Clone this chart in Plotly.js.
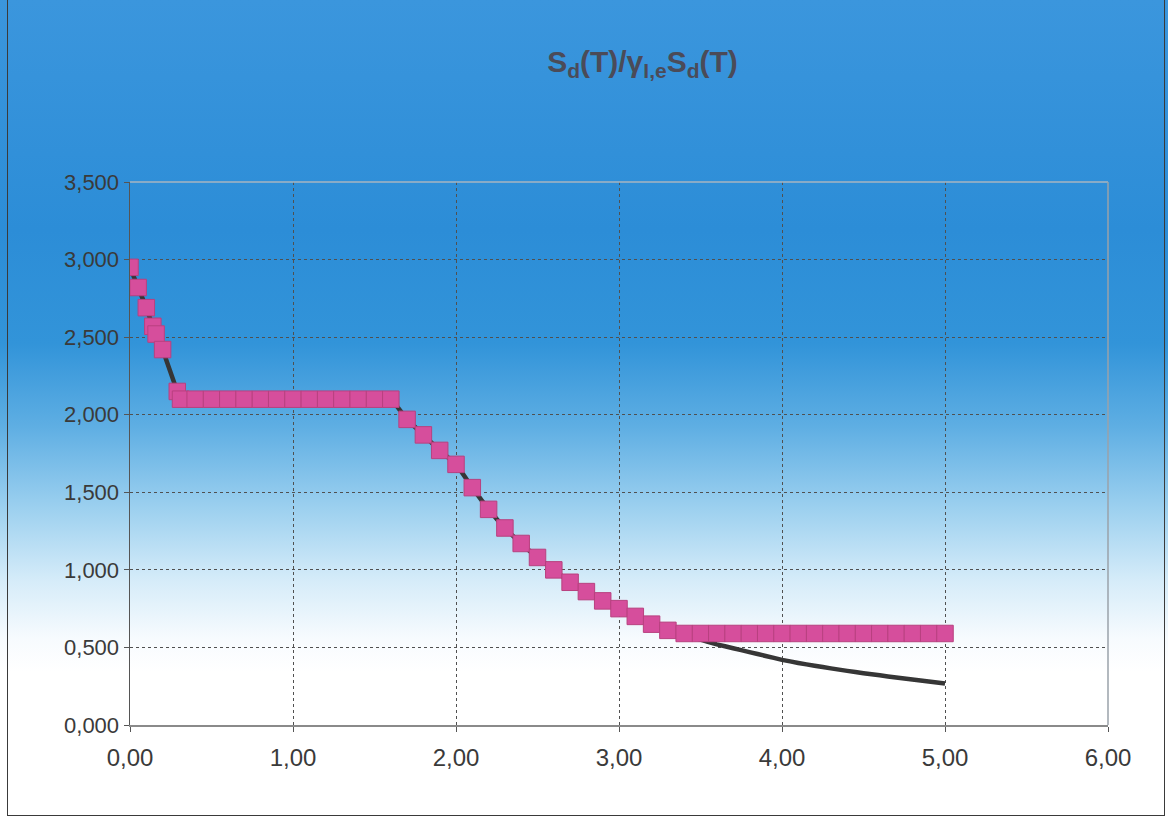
<!DOCTYPE html>
<html>
<head>
<meta charset="utf-8">
<script src="https://cdn.plot.ly/plotly-3.0.1.min.js"></script>
<style>
  html, body { margin: 0; padding: 0; width: 1168px; height: 819px; overflow: hidden; background: #ffffff; }
  #wrap { position: relative; width: 1168px; height: 819px;
    background: linear-gradient(to bottom, #3b96dd 0%, #2c8dd7 28%, #3294d9 42%, #5eaee3 52%, #9cd0ef 62%, #d6ecf9 71%, #f7fbfe 78%, #ffffff 82%, #ffffff 100%); }
  #chart { position: absolute; left: 0; top: 0; width: 1168px; height: 819px; }
  #frame { position: absolute; left: 7px; top: -2px; width: 1158px; height: 818px; border: 1px solid #3a3a3a; box-sizing: border-box; pointer-events: none; }
</style>
</head>
<body>
<div id="wrap">
  <div id="chart"></div>
  <div id="frame"></div>
</div>
<script>
// Period T (s) of the plotted points
const periods = [0, 0.05, 0.10, 0.14, 0.16, 0.20, 0.29, 0.31,
  0.40, 0.50, 0.60, 0.70, 0.80, 0.90, 1.00, 1.10, 1.20, 1.30, 1.40, 1.50, 1.60,
  1.70, 1.80, 1.90, 2.00, 2.10, 2.20, 2.30, 2.40, 2.50, 2.60, 2.70, 2.80, 2.90, 3.00,
  3.10, 3.20, 3.30, 3.40, 3.50, 3.60, 3.70, 3.80, 3.90, 4.00, 4.10, 4.20, 4.30, 4.40,
  4.50, 4.60, 4.70, 4.80, 4.90, 5.00];

// Spectrum without lower bound (black line)
const spectrumLine = [2.95, 2.82, 2.69, 2.57, 2.52, 2.42, 2.15, 2.10,
  2.10, 2.10, 2.10, 2.10, 2.10, 2.10, 2.10, 2.10, 2.10, 2.10, 2.10, 2.10, 2.10,
  1.97, 1.87, 1.77, 1.68, 1.53, 1.39, 1.27, 1.17, 1.08, 1.00, 0.92, 0.86, 0.80, 0.75,
  0.70, 0.65, 0.61, 0.58, 0.55, 0.52, 0.495, 0.47, 0.445, 0.42, 0.40, 0.382, 0.365, 0.349,
  0.334, 0.320, 0.306, 0.293, 0.280, 0.268];

// Spectrum with lower bound (pink squares)
const spectrumBounded = [2.95, 2.82, 2.69, 2.57, 2.52, 2.42, 2.15, 2.10,
  2.10, 2.10, 2.10, 2.10, 2.10, 2.10, 2.10, 2.10, 2.10, 2.10, 2.10, 2.10, 2.10,
  1.97, 1.87, 1.77, 1.68, 1.53, 1.39, 1.27, 1.17, 1.08, 1.00, 0.92, 0.86, 0.80, 0.75,
  0.70, 0.65, 0.61, 0.59, 0.59, 0.59, 0.59, 0.59, 0.59, 0.59, 0.59, 0.59, 0.59, 0.59,
  0.59, 0.59, 0.59, 0.59, 0.59, 0.59];

const xTicks = [0, 1, 2, 3, 4, 5, 6];
const yTicks = [0, 0.5, 1.0, 1.5, 2.0, 2.5, 3.0, 3.5];

const traces = [
  {
    x: periods, y: spectrumLine, type: 'scatter', mode: 'lines',
    line: { color: '#363636', width: 4.5, shape: 'spline', smoothing: 0.3 },
    showlegend: false
  },
  {
    x: periods, y: spectrumBounded, type: 'scatter', mode: 'markers',
    marker: { symbol: 'square', size: 16.5, color: '#d64e9c', line: { color: '#b8407f', width: 1 } },
    showlegend: false
  }
];

const layout = {
  width: 1168, height: 819,
  paper_bgcolor: 'rgba(0,0,0,0)',
  plot_bgcolor: 'rgba(0,0,0,0)',
  separators: ',.',
  margin: { l: 130, r: 60, t: 182, b: 94, pad: 0 },
  font: { family: 'Liberation Sans, Arial, sans-serif', color: '#333333' },
  title: {
    text: 'S<sub>d</sub>(T)/γ<sub>I,e</sub>S<sub>d</sub>(T)',
    font: { family: 'Liberation Sans, Arial, sans-serif', size: 30, color: '#4b4b58', weight: 'bold' },
    xref: 'paper', x: 0.524, xanchor: 'center',
    yref: 'container', y: 0.925, yanchor: 'middle'
  },
  xaxis: {
    range: [0, 6], tickvals: xTicks, tickformat: '.2f',
    showgrid: true, gridcolor: '#505050', griddash: 'dot', gridwidth: 1,
    zeroline: false, showline: true, linecolor: '#8a8a8a', linewidth: 1.5, mirror: false,
    ticks: 'outside', ticklen: 5, tickcolor: '#555555',
    tickfont: { size: 24, color: '#3a3a3a' }, ticklabelstandoff: 6
  },
  yaxis: {
    range: [0, 3.5], tickvals: yTicks, tickformat: '.3f',
    showgrid: true, gridcolor: '#505050', griddash: 'dot', gridwidth: 1,
    zeroline: false, showline: true, linecolor: '#555555', linewidth: 1.5, mirror: false,
    ticks: 'outside', ticklen: 5, tickcolor: '#555555',
    tickfont: { size: 22, color: '#3a3a3a' }, ticklabelstandoff: 0
  },
  shapes: [
    { type: 'line', xref: 'paper', yref: 'paper', x0: 0, x1: 1, y0: 1, y1: 1, line: { color: '#a8b4c0', width: 1.5 } },
    { type: 'line', xref: 'paper', yref: 'paper', x0: 1, x1: 1, y0: 0, y1: 1, line: { color: '#9aa2aa', width: 1.5 } }
  ]
};

Plotly.newPlot('chart', traces, layout, { displayModeBar: false, staticPlot: true });
</script>
</body>
</html>
